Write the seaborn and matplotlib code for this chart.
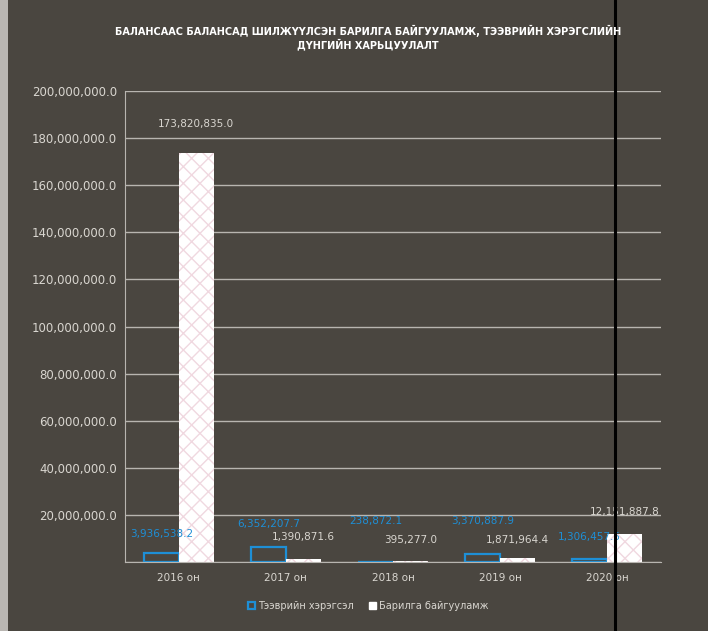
import matplotlib
matplotlib.use("Agg")
import matplotlib.pyplot as plt
import seaborn as sns
import pandas as pd
from matplotlib.patches import Rectangle
from matplotlib.lines import Line2D

# Data
years = ["2016 он", "2017 он", "2018 он", "2019 он", "2020 он"]
vehicles = [3936538.2, 6352207.7, 238872.1, 3370887.9, 1306457.5]
buildings = [173820835.0, 1390871.6, 395277.0, 1871964.4, 12151887.8]
series_names = ["Тээврийн хэрэгсэл", "Барилга байгууламж"]

title = ("БАЛАНСААС БАЛАНСАД ШИЛЖҮҮЛСЭН БАРИЛГА БАЙГУУЛАМЖ, ТЭЭВРИЙН ХЭРЭГСЛИЙН\n"
         "ДҮНГИЙН ХАРЬЦУУЛАЛТ")

# label offsets (points above bar top), as placed in the original
blue_offsets = [10, 13, 26, 20, 12]
white_offsets = [17, 12, 12, 9, 12]

df = pd.DataFrame({
    "year": years * 2,
    "value": vehicles + buildings,
    "series": [series_names[0]] * len(years) + [series_names[1]] * len(years),
})

bg = "#4a4640"
blue = "#1e8fd6"
light = "#d9d6d0"

sns.set_style("dark")
plt.rcParams["font.family"] = ["Liberation Sans Narrow", "DejaVu Sans"]

fig = plt.figure(figsize=(7.08, 6.31), dpi=100)
fig.patch.set_facecolor(bg)
ax = fig.add_axes([0.177, 0.109, 0.756, 0.747])
ax.set_facecolor(bg)

sns.barplot(data=df, x="year", y="value", hue="series", ax=ax,
            palette=[blue, "white"], width=0.65, legend=False)

# style the two series
for p in ax.containers[0]:
    p.set_facecolor("none")
    p.set_edgecolor(blue)
    p.set_linewidth(1.6)
for p in ax.containers[1]:
    p.set_facecolor("white")
    p.set_edgecolor("#f0d8e0")
    p.set_hatch("xx")
    p.set_linewidth(0)

# data labels
for cont, color, offs in zip(ax.containers, [blue, light], [blue_offsets, white_offsets]):
    for p, off in zip(cont, offs):
        h = p.get_height()
        ax.annotate(f"{h:,.1f}", (p.get_x() + p.get_width() / 2, h),
                    xytext=(0, off), textcoords="offset points",
                    ha="center", va="bottom", color=color, fontsize=7.5)

ax.set_ylim(0, 200000000)
ax.set_yticks(range(0, 200000001, 20000000))
ax.set_yticklabels([""] + [f"{v:,.1f}" for v in range(20000000, 200000001, 20000000)])
ax.grid(axis="y", color="#b8b5b0", linewidth=1)
ax.grid(axis="x", visible=False)
ax.set_axisbelow(True)
ax.set_xlabel("")
ax.set_ylabel("")
ax.tick_params(axis="y", colors=light, labelsize=8.5, length=0, pad=6)
ax.tick_params(axis="x", colors=light, labelsize=7.5, length=0, pad=8)
for s in ["top", "right"]:
    ax.spines[s].set_visible(False)
ax.spines["left"].set_color("#b8b5b0")
ax.spines["bottom"].set_color("#b8b5b0")

fig.text(0.52, 0.94, title, ha="center", va="center", color="white",
         fontsize=7, fontweight="bold", linespacing=1.2)

handles = [Rectangle((0, 0), 1, 1, facecolor="none", edgecolor=blue, linewidth=1.6),
           Rectangle((0, 0), 1, 1, facecolor="white", edgecolor="white")]
fig.legend(handles, series_names, loc="center", bbox_to_anchor=(0.52, 0.04),
           ncol=2, frameon=False, fontsize=7, labelcolor=light,
           handlelength=0.8, handleheight=0.8, handletextpad=0.3, columnspacing=1.5)

# scan artifacts: black vertical line and light left edge
fig.add_artist(Line2D([0.868, 0.868], [0, 1], color="black", linewidth=2.2,
                      transform=fig.transFigure))
fig.add_artist(Rectangle((0, 0), 0.011, 1, facecolor="#b9b6b2", edgecolor="none",
                         transform=fig.transFigure))

fig.savefig("out.png", dpi=100, facecolor=bg)
